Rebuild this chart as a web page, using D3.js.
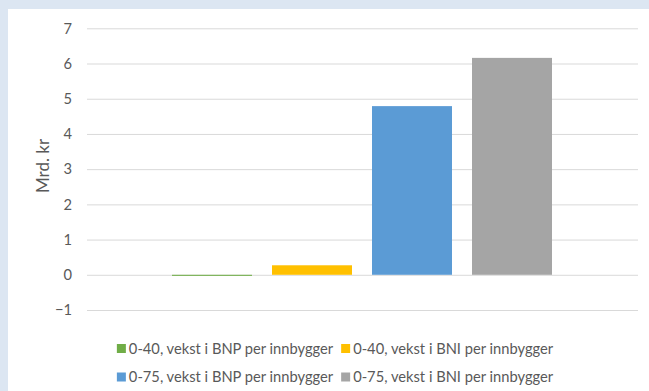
<!DOCTYPE html>
<html>
<head>
<meta charset="utf-8">
<script src="https://cdn.jsdelivr.net/npm/d3@7/dist/d3.min.js"></script>
<style>
  html, body { margin: 0; padding: 0; background: #dce6f2; }
  svg { display: block; }
  text { font-family: Lato, "Open Sans", sans-serif; fill: #595959; }
</style>
</head>
<body>
<svg id="chart" width="649" height="391"></svg>
<script>
// Series (one bar each) and their values in billions of NOK
const series = [
  "0-40, vekst i BNP per innbygger",
  "0-40, vekst i BNI per innbygger",
  "0-75, vekst i BNP per innbygger",
  "0-75, vekst i BNI per innbygger"
];
const values = [-0.03, 0.27, 4.79, 6.16];
const colors = ["#70ad47", "#ffc000", "#5b9bd5", "#a5a5a5"];
const yTicks = [-1, 0, 1, 2, 3, 4, 5, 6, 7];
const yLabel = "Mrd. kr";

const svg = d3.select("#chart");
const W = 649, H = 391;
const fontSize = "14.7px";

// white chart panel inside the tinted frame
svg.append("rect").attr("x", 8).attr("y", 9).attr("width", W - 8).attr("height", H - 9).attr("fill", "#ffffff");

const plot = { left: 87, right: 638, top: 28.3, bottom: 310 };

const y = d3.scaleLinear().domain([-1, 7]).range([plot.bottom, plot.top]);
const x = d3.scaleBand().domain(series)
  .range([172, 552]).paddingInner(0.2).paddingOuter(0);

// gridlines + tick labels via axis
const yAxis = d3.axisLeft(y).tickValues(yTicks).tickSize(-(plot.right - plot.left)).tickPadding(15)
  .tickFormat(d3.format("d"));
const gAxis = svg.append("g").attr("transform", `translate(${plot.left},0)`).call(yAxis);
gAxis.select(".domain").remove();
gAxis.selectAll(".tick line").attr("stroke", "#d9d9d9").attr("stroke-width", 1);
gAxis.selectAll(".tick text").attr("fill", "#595959").style("font-size", fontSize)
  .style("font-family", "Lato, 'Open Sans', sans-serif");

// bars
svg.append("g").selectAll("rect").data(values).join("rect")
  .attr("x", (d, i) => x(series[i]))
  .attr("width", x.bandwidth())
  .attr("y", d => y(Math.max(0, d)))
  .attr("height", d => Math.max(1, Math.abs(y(d) - y(0))))
  .attr("fill", (d, i) => colors[i]);

// y-axis title
svg.append("text")
  .attr("transform", "translate(49,166) rotate(-90)")
  .attr("text-anchor", "middle")
  .style("font-size", "17px")
  .text(yLabel);

// legend: two rows, two items each, centred in the chart panel
const rows = [[0, 1], [2, 3]];
const rowY = [348.5, 377];
const legendCenter = 335;
const legend = svg.append("g");
rows.forEach((row, r) => {
  const g = legend.append("g");
  let cx = 0;
  row.forEach(i => {
    g.append("rect").attr("x", cx).attr("y", rowY[r] - 4.5).attr("width", 9).attr("height", 9).attr("fill", colors[i]);
    const t = g.append("text").attr("x", cx + 12).attr("y", rowY[r]).attr("dy", "0.35em")
      .style("font-size", fontSize).text(series[i]);
    cx += 12 + t.node().getComputedTextLength() + 8;
  });
  const w = cx - 8;
  g.attr("transform", `translate(${legendCenter - w / 2},0)`);
});
</script>
</body>
</html>
